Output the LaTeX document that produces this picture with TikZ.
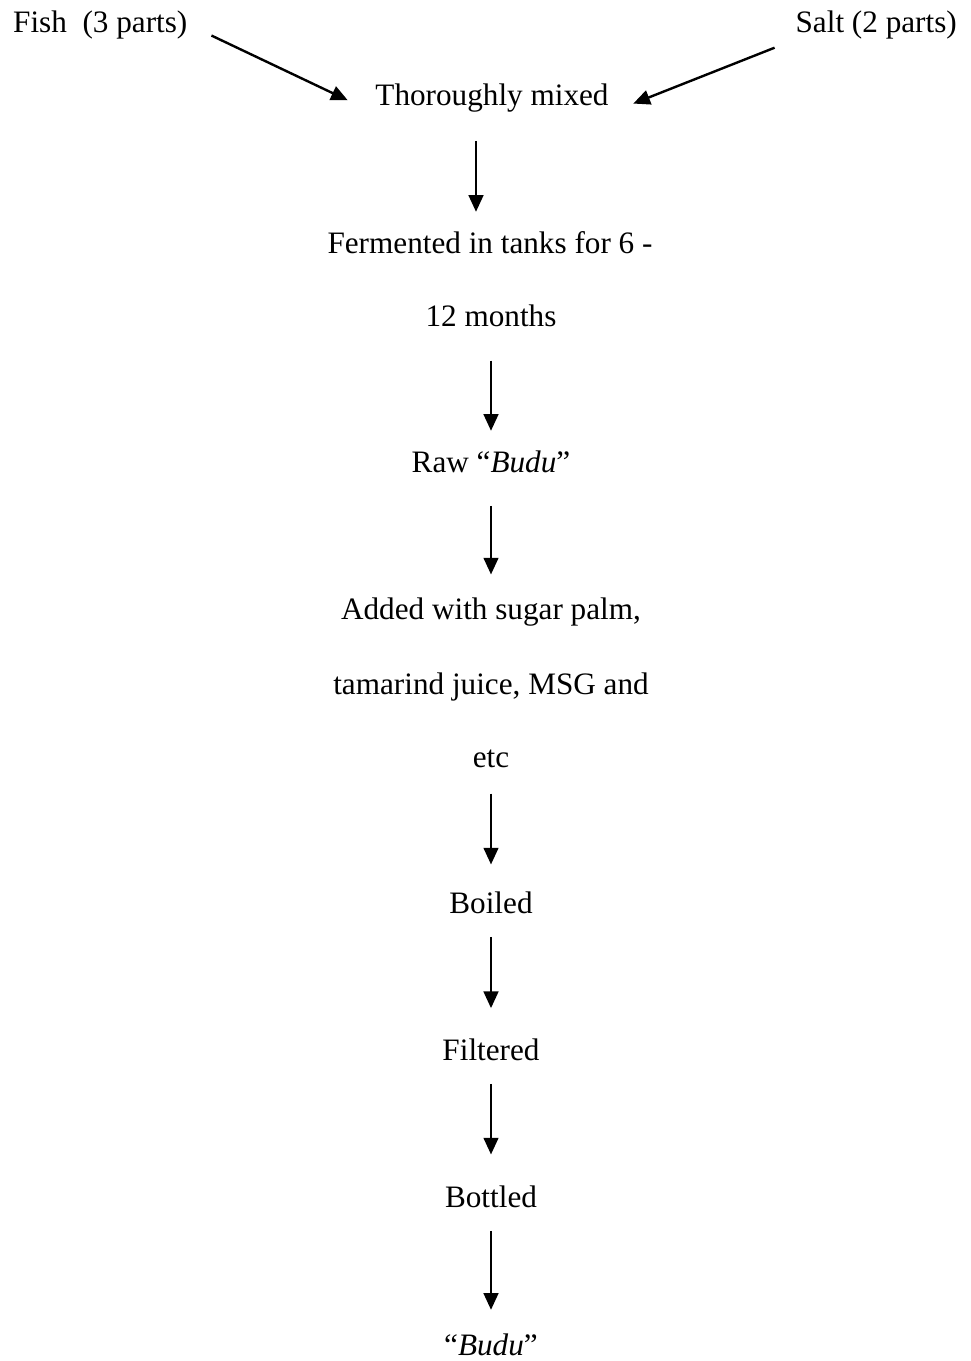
\documentclass[tikz,border=0pt]{standalone}
\usepackage{fontspec}
\setmainfont{Liberation Serif}
\usetikzlibrary{arrows.meta}

\begin{document}
\begin{tikzpicture}[
            x = 0.75pt, y = -0.75pt, % pixel grid of the page
            > = {Triangle[length=12.5pt, width=11pt]}, % arrow head style
            line width = 1.8pt % line style
        ]

        \tikzstyle{stage}=[
            font = \fontsize{23.4}{28}\selectfont,
            inner sep = 0pt,
            text height = 16pt,
            text depth = 5pt,
            anchor = base
        ]

        \useasboundingbox (0,0) rectangle (971,1361);

	\node[stage, anchor=base west] (fish) at (12,32) {Fish\ \ (3 parts)};
	\node[stage, anchor=base east] (salt) at (958,32) {Salt (2 parts)};
	\node[stage] (mixed) at (492,105) {Thoroughly mixed};
	\node[stage] (ferm1) at (490,253) {Fermented in tanks for 6 -};
	\node[stage] (ferm2) at (491,326) {12 months};
	\node[stage] (raw) at (491,472) {Raw ``\textit{Budu}''};
	\node[stage] (add1) at (491,619) {Added with sugar palm,};
	\node[stage] (add2) at (491,694) {tamarind juice, MSG and};
	\node[stage] (add3) at (491,767) {etc};
	\node[stage] (boil) at (491,913) {Boiled};
	\node[stage] (filt) at (491,1060) {Filtered};
	\node[stage] (bott) at (491,1207) {Bottled};
	\node[stage] (budu) at (491,1355) {``\textit{Budu}''};

	\draw[->, shorten <=19pt, shorten >=22pt] (fish.east) -- (mixed.south west);
	\draw[->, shorten <=16pt, shorten >=19pt] (salt.south west) -- (mixed.south east);
	\draw[->, shorten <=21pt, shorten >=14pt] ([xshift=-12pt]mixed.south) -- ([xshift=-12pt]mixed.south |- ferm1.north);
	\draw[->, shorten <=20pt, shorten >=14pt] (ferm2.south) -- (raw.north);
	\draw[->, shorten <=19.5pt, shorten >=16.5pt] (raw.south) -- (add1.north);
	\draw[->, shorten <=14pt, shorten >=19.5pt] (add3.south) -- (boil.north);
	\draw[->, shorten <=12pt, shorten >=22pt] (boil.south) -- (filt.north);
	\draw[->, shorten <=12pt, shorten >=22.5pt] (filt.south) -- (bott.north);
	\draw[->, shorten <=12pt, shorten >=17pt] (bott.south) -- (budu.north);

    \end{tikzpicture}
\end{document}
